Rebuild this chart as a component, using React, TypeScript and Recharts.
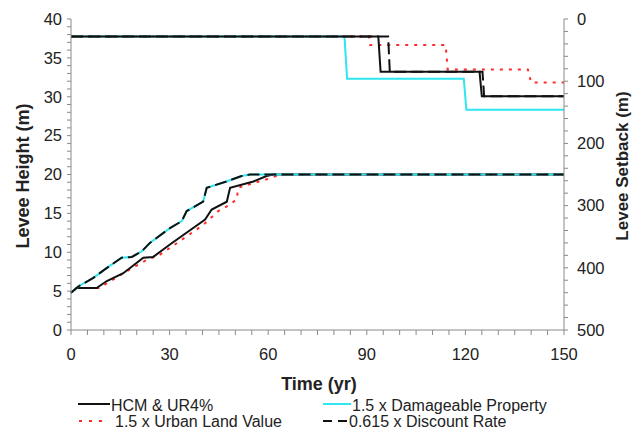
import React from 'react'
import { LineChart, Line, XAxis, YAxis } from 'recharts'

// [time (yr), levee height (m)]
const hcmHeight: [number, number][] = [
  [0, 4.8], [1.7, 5.4], [7.8, 5.4], [10.9, 6.3], [15.9, 7.3], [22, 9.3], [25, 9.4],
  [30.1, 11], [40.8, 14.2], [42.8, 15.5], [47.4, 16.5], [48.4, 18.3], [55.5, 19.1],
  [59.5, 19.8], [61.5, 20], [150, 20],
]
const propertyHeight: [number, number][] = [
  [0, 4.8], [2.2, 5.6], [6.8, 6.7], [10.3, 7.8], [15.4, 9.3], [18.5, 9.4], [21.5, 10.1],
  [24, 11.2], [30.1, 13.1], [33.7, 14], [35.2, 15.3], [40.2, 16.5], [41.3, 18.3],
  [47.3, 19.1], [51.9, 19.8], [54.5, 20], [150, 20],
]
const landHeight: [number, number][] = [
  [0, 4.8], [1.7, 5.4], [8.5, 5.4], [12.9, 6.5], [17.9, 7.8], [23, 9], [27.1, 9.7],
  [31.6, 11], [40.2, 13.5], [44.8, 15.3], [47.9, 16], [50.4, 16.8], [50.9, 18.3],
  [54, 18.7], [60.5, 19.5], [63.6, 20], [150, 20],
]
const discountHeight: [number, number][] = [
  [0, 4.8], [2.2, 5.6], [6.8, 6.7], [10.3, 7.8], [15.4, 9.3], [18.5, 9.4], [21.5, 10.1],
  [24, 11.2], [30.1, 13.1], [33.7, 14], [35.2, 15.3], [40.2, 16.5], [41.3, 18.3],
  [47.3, 19.1], [51.9, 19.8], [54.5, 20], [150, 20],
]

// [time (yr), levee setback (m)]
const hcmSetback: [number, number][] = [[0, 28], [93.5, 28], [94.2, 85], [124.3, 85], [125, 124], [150, 124]]
const propertySetback: [number, number][] = [[0, 28], [83.2, 28], [84, 96], [119.5, 96], [120.3, 146], [150, 146]]
const landSetback: [number, number][] = [[0, 28], [90.7, 28], [91, 42], [114, 42], [114.6, 81], [139, 81], [140, 102], [150, 102]]
const discountSetback: [number, number][] = [[0, 28], [96.5, 28], [97, 85], [125.2, 85], [125.7, 124], [150, 124]]

const timeTicks = Array.from({ length: 31 }, (_, i) => i * 5)
const heightTicks = Array.from({ length: 41 }, (_, i) => i)
const setbackTicks = Array.from({ length: 26 }, (_, i) => i * 20)

const pts = (arr: [number, number][]) => arr.map(([t, v]) => ({ t, v }))

const AXIS = '#8a8a8a'
const CYAN = '#2ee6f0'
const RED = '#ff2a2a'
const FONT = '"Liberation Sans", Arial, sans-serif'
const tickStyle = { fill: '#222', fontSize: 16.5, fontFamily: FONT }

function Swatch({ x, y, w, color, dash }: { x: number; y: number; w: number; color: string; dash?: string }) {
  return (
    <svg style={{ position: 'absolute', left: x, top: y - 3 }} width={w} height={6}>
      <line x1={0} y1={3} x2={w} y2={3} stroke={color} strokeWidth={2} strokeDasharray={dash} />
    </svg>
  )
}

export default function App() {
  const lbl: React.CSSProperties = { position: 'absolute', fontSize: 16, lineHeight: '16px', color: '#222', whiteSpace: 'nowrap' }
  return (
    <div style={{ position: 'absolute', left: 0, top: 0, width: 640, height: 429, fontFamily: FONT, background: '#fff' }}>
      <LineChart width={640} height={429} margin={{ top: 19, right: 0, bottom: 69, left: 0 }}>
        <XAxis dataKey="t" type="number" domain={[0, 150]} ticks={timeTicks} interval={0}
          tickFormatter={(v: number) => (v % 30 === 0 ? String(v) : '')}
          stroke={AXIS} tickSize={5} tickMargin={13} height={30} tick={tickStyle} allowDuplicatedCategory={false} />
        <YAxis yAxisId="h" domain={[0, 40]} ticks={heightTicks} interval={0} width={71}
          tickFormatter={(v: number) => (v % 5 === 0 ? String(v) : '')}
          stroke={AXIS} tickSize={4} tickMargin={5} tick={tickStyle} />
        <YAxis yAxisId="s" orientation="right" reversed domain={[0, 500]} ticks={setbackTicks} interval={0} width={76}
          tickFormatter={(v: number) => (v % 100 === 0 ? String(v) : '')}
          stroke={AXIS} tickSize={4} tickMargin={9} tick={{ ...tickStyle, textAnchor: 'start' }} />

        <Line yAxisId="s" data={pts(landSetback)} dataKey="v" stroke={RED} strokeWidth={2} strokeDasharray="3 6" dot={false} isAnimationActive={false} />
        <Line yAxisId="s" data={pts(propertySetback)} dataKey="v" stroke={CYAN} strokeWidth={2} dot={false} isAnimationActive={false} />
        <Line yAxisId="s" data={pts(discountSetback)} dataKey="v" stroke="#111" strokeWidth={2} strokeDasharray="12 5" dot={false} isAnimationActive={false} />
        <Line yAxisId="s" data={pts(hcmSetback)} dataKey="v" stroke="#111" strokeWidth={2} dot={false} isAnimationActive={false} />

        <Line yAxisId="h" data={pts(landHeight)} dataKey="v" stroke={RED} strokeWidth={2} strokeDasharray="3 6" dot={false} isAnimationActive={false} />
        <Line yAxisId="h" data={pts(hcmHeight)} dataKey="v" stroke="#111" strokeWidth={2} dot={false} isAnimationActive={false} />
        <Line yAxisId="h" data={pts(propertyHeight)} dataKey="v" stroke={CYAN} strokeWidth={2} dot={false} isAnimationActive={false} />
        <Line yAxisId="h" data={pts(discountHeight)} dataKey="v" stroke="#111" strokeWidth={2} strokeDasharray="12 5" dot={false} isAnimationActive={false} />
      </LineChart>

      <div style={{ position: 'absolute', left: 23, top: 176, transform: 'translate(-50%, -50%) rotate(-90deg)', fontSize: 18, fontWeight: 'bold', color: '#222', whiteSpace: 'nowrap' }}>
        Levee Height (m)
      </div>
      <div style={{ position: 'absolute', left: 623, top: 166, transform: 'translate(-50%, -50%) rotate(-90deg)', fontSize: 17, fontWeight: 'bold', color: '#222', whiteSpace: 'nowrap' }}>
        Levee Setback (m)
      </div>
      <div style={{ position: 'absolute', left: 319, top: 384, transform: 'translate(-50%, -50%)', fontSize: 18, fontWeight: 'bold', color: '#222', whiteSpace: 'nowrap' }}>
        Time (yr)
      </div>

      <Swatch x={78} y={404} w={32} color="#111" />
      <div style={{ ...lbl, left: 111, top: 398 }}>HCM &amp; UR4%</div>
      <Swatch x={323} y={404} w={28} color={CYAN} />
      <div style={{ ...lbl, left: 352, top: 398 }}>1.5 x Damageable Property</div>
      <Swatch x={79} y={421} w={26} color={RED} dash="3 7" />
      <div style={{ ...lbl, left: 115, top: 414 }}>1.5 x Urban Land Value</div>
      <Swatch x={323} y={421} w={24} color="#111" dash="9 6" />
      <div style={{ ...lbl, left: 349, top: 414 }}>0.615 x Discount Rate</div>
    </div>
  )
}
